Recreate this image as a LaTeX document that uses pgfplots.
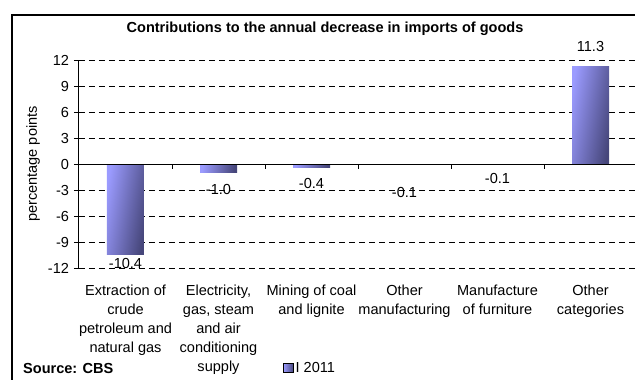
\documentclass[border=0pt]{standalone}
\usepackage{fontspec}
\setmainfont{Liberation Sans}
\usepackage{pgfplots}
\pgfplotsset{compat=1.18}
\definecolor{barlight}{RGB}{155,155,255}
\definecolor{bardark}{RGB}{70,70,122}
\newcommand\fs{\fontsize{14.6}{19}\selectfont}
\pgfplotsset{mybar/.style={ybar, bar width=37bp, bar shift=0pt, draw=none,
  left color=barlight, right color=bardark, shading angle=80, forget plot,
  point meta=explicit symbolic, nodes near coords,
  nodes near coords style={anchor=center, yshift=#1, font=\fs, inner sep=0pt, text=black}}}
\begin{document}
\fs
\begin{tikzpicture}
\begin{axis}[
  at={(0,0)}, anchor=south west,
  scale only axis, width=558bp, height=208bp,
  clip=false,
  xmin=-0.5, xmax=5.5, ymin=-12, ymax=12,
  axis y line=left, axis x line=bottom,
  axis line style={-},
  x axis line style={draw=none},
  y axis line style={black, line width=1bp},
  ytick={-12,-9,-6,-3,0,3,6,9,12},
  yticklabels={-12,-9,-6,-3,0,3,6,9,12},
  xtick={0,1,2,3,4,5},
  xticklabels={{Extraction of\\crude\\petroleum and\\natural gas},
    {Electricity,\\gas, steam\\and air\\conditioning\\supply},
    {Mining of coal\\and lignite},
    {Other\\manufacturing},
    {Manufacture\\of furniture},
    {Other\\categories}},
  xticklabel style={align=center, anchor=north, yshift=-7bp, font=\fs},
  yticklabel style={font=\fs},
  xtick style={draw=none},
  ytick style={black, line width=0.8bp},
  tick align=outside, major tick length=5bp,
  ymajorgrids,
  grid style={black, line width=0.8bp, dash pattern=on 6bp off 4bp},
  title={Contributions to the annual decrease in imports of goods},
  title style={at={(axis description cs:0.4409,1.12)}, anchor=center, font=\fs\bfseries},
  ylabel={percentage points},
  ylabel style={at={(axis description cs:-0.0824,0.5)}, anchor=center, font=\fs},
  legend style={at={(axis description cs:0.3656,-0.481)}, anchor=west, draw=none, fill=none, inner sep=0pt, font=\fs},
]
\addplot[mybar=-9bp] coordinates {(0,-10.4) [-10.4]};
\addplot[mybar=-17bp] coordinates {(1,-1.0) [-1.0]};
\addplot[mybar=-16.5bp] coordinates {(2,-0.4) [-0.4]};
\addplot[mybar=-28bp] coordinates {(3,-0.1) [-0.1]};
\addplot[mybar=-14bp] coordinates {(4,-0.1) [-0.1]};
\addplot[mybar=20bp] coordinates {(5,11.3) [11.3]};
\addlegendimage{legend image code/.code={\fill[left color=barlight, right color=bardark] (0bp,-4.5bp) rectangle (10bp,4.5bp);}}
\addlegendentry{I 2011}
\draw[black, line width=1bp] (axis cs:-0.5,0) -- (axis cs:5.5,0);
\pgfplotsinvokeforeach{0.5,1.5,2.5,3.5,4.5}{
  \draw[black, line width=0.8bp] (axis cs:#1,0) -- ([yshift=-5bp]axis cs:#1,0);
}
\node[anchor=west, font=\fs\bfseries, inner sep=0pt] at (axis description cs:-0.1004,-0.481) {Source: CBS};
\end{axis}
\draw[black, line width=1.2bp] (-67bp,-130bp) rectangle (570bp,253bp);
\pgfresetboundingbox
\path[use as bounding box] (-79bp,-112bp) rectangle (556bp,268bp);
\end{tikzpicture}
\end{document}
